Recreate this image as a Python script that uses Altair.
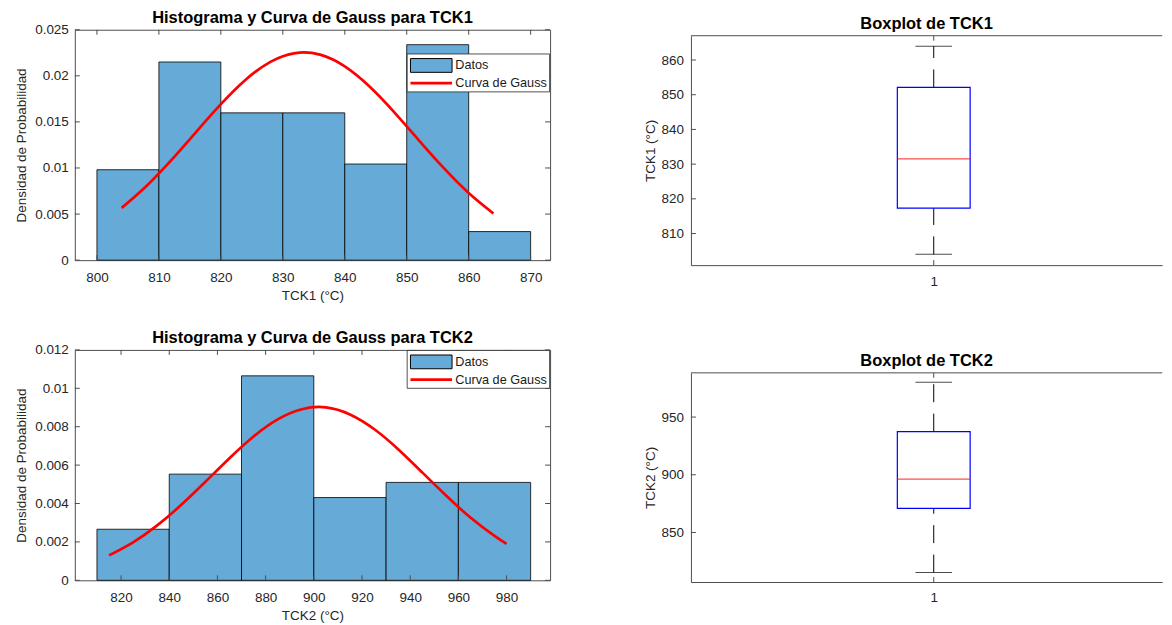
import altair as alt
import pandas as pd

# ---------------- data ----------------
tck1_bin_lo = [800, 810, 820, 830, 840, 850, 860]
tck1_bin_hi = [810, 820, 830, 840, 850, 860, 870]
tck1_density = [0.00981, 0.02150, 0.01598, 0.01598, 0.01043, 0.02338, 0.00310]
tck1_curve_x = [804, 808, 812, 816, 820, 824, 828, 832, 836, 840, 844, 848, 852, 856, 860, 864]
tck1_curve_y = [0.00567, 0.00805, 0.01085, 0.01390, 0.01692, 0.01958, 0.02152, 0.02247,
                0.02230, 0.02103, 0.01884, 0.01604, 0.01298, 0.00998, 0.00729, 0.00506]
tck1_xticks = [800, 810, 820, 830, 840, 850, 860, 870]
tck1_yticks = [0, 0.005, 0.01, 0.015, 0.02, 0.025]

tck2_bin_lo = [810, 840, 870, 900, 930, 960]
tck2_bin_hi = [840, 870, 900, 930, 960, 990]
tck2_density = [0.00266, 0.00553, 0.01065, 0.00431, 0.00510, 0.00510]
tck2_curve_x = [815, 825, 835, 845, 855, 865, 875, 885, 895, 905, 915, 925, 935, 945, 955, 965, 975, 980]
tck2_curve_y = [0.00130, 0.00198, 0.00286, 0.00393, 0.00513, 0.00636, 0.00749, 0.00838, 0.00891,
                0.00901, 0.00864, 0.00788, 0.00683, 0.00562, 0.00440, 0.00327, 0.00231, 0.00190]
tck2_xticks = [820, 840, 860, 880, 900, 920, 940, 960, 980]
tck2_yticks = [0, 0.002, 0.004, 0.006, 0.008, 0.01, 0.012]

legend_labels = ["Datos", "Curva de Gauss"]

box_category = [1]
# lower whisker, Q1, median, Q3, upper whisker
tck1_box = [804.0, 817.3, 831.5, 852.1, 864.0]
tck2_box = [815.3, 870.9, 896.3, 937.4, 980.1]
tck1_box_yticks = [810, 820, 830, 840, 850, 860]
tck2_box_yticks = [850, 900, 950]

# ---------------- style ----------------
FONT = "Liberation Sans"
BLUE = "#66AAD7"
AX = "#262626"
FRAME = "#4d4d4d"
TL = 5
HW = 476.5
BW = 472.5                 # visible part of the boxplot axes (cut at the page edge)
BOX_UNIT = 487.2           # pixels per x unit in the boxplot axes


def hist_chart(lo, hi, dens, cx, cy, xt, yt, xdom, ydom, title, xtitle, leg_top, toff,
               HH, lpad, tpad):
    xs = alt.Scale(domain=xdom, nice=False, zero=False)
    ys = alt.Scale(domain=ydom, nice=False, zero=False)
    xax = alt.Axis(values=xt, format="d", title=xtitle, labelPadding=lpad, titlePadding=tpad)
    yax = alt.Axis(values=yt, format="~g", title="Densidad de Probabilidad",
                   labelPadding=6.5, titlePadding=6.5)
    bars = alt.Chart(pd.DataFrame({"lo": lo, "hi": hi, "d": dens})).mark_rect(
        fill=BLUE, stroke="black", strokeWidth=0.8
    ).encode(
        x=alt.X("lo:Q", scale=xs, axis=xax),
        x2="hi:Q",
        y=alt.Y("d:Q", scale=ys, axis=yax),
        y2=alt.datum(0),
    )
    curve = alt.Chart(pd.DataFrame({"x": cx, "y": cy})).mark_line(
        color="#FF0000", strokeWidth=2.7, interpolate="natural"
    ).encode(x=alt.X("x:Q", scale=xs, axis=xax), y=alt.Y("y:Q", scale=ys, axis=yax))
    xtdf = pd.DataFrame({"t": xt})
    ytdf = pd.DataFrame({"t": yt})
    rule = dict(color=FRAME, strokeWidth=1)
    xb = alt.Chart(xtdf).mark_rule(**rule).encode(
        x=alt.X("t:Q", scale=xs, axis=xax), y=alt.value(HH), y2=alt.value(HH - TL))
    xtp = alt.Chart(xtdf).mark_rule(**rule).encode(
        x=alt.X("t:Q", scale=xs, axis=xax), y=alt.value(0), y2=alt.value(TL))
    yl = alt.Chart(ytdf).mark_rule(**rule).encode(
        y=alt.Y("t:Q", scale=ys, axis=yax), x=alt.value(0), x2=alt.value(TL))
    yr = alt.Chart(ytdf).mark_rule(**rule).encode(
        y=alt.Y("t:Q", scale=ys, axis=yax), x=alt.value(HW), x2=alt.value(HW - TL))

    # legend box (drawn in pixel space of the plot)
    one = pd.DataFrame({"k": [0]})
    lx, ly = 333.2, leg_top
    lw, lh = 142.8, 38
    frame = alt.Chart(one).mark_rect(fill="white", stroke=AX, strokeWidth=0.8).encode(
        x=alt.value(lx), x2=alt.value(lx + lw), y=alt.value(ly), y2=alt.value(ly + lh))
    patch = alt.Chart(one).mark_rect(fill=BLUE, stroke="black", strokeWidth=1).encode(
        x=alt.value(lx + 3.3), x2=alt.value(lx + 45), y=alt.value(ly + 4.6), y2=alt.value(ly + 18.4))
    lline = alt.Chart(one).mark_rule(color="#FF0000", strokeWidth=2.7).encode(
        x=alt.value(lx + 3.3), x2=alt.value(lx + 45), y=alt.value(ly + 29.2))
    t1 = alt.Chart(pd.DataFrame({"lab": [legend_labels[0]]})).mark_text(
        align="left", baseline="middle", font=FONT, fontSize=12.7, color="#1a1a1a"
    ).encode(x=alt.value(lx + 48.3), y=alt.value(ly + 11.5), text="lab:N")
    t2 = alt.Chart(pd.DataFrame({"lab": [legend_labels[1]]})).mark_text(
        align="left", baseline="middle", font=FONT, fontSize=12.7, color="#1a1a1a"
    ).encode(x=alt.value(lx + 48.3), y=alt.value(ly + 29.2), text="lab:N")

    return alt.layer(bars, curve, xb, xtp, yl, yr, frame, patch, lline, t1, t2).properties(
        width=HW, height=HH, title=alt.TitleParams(title, offset=toff))


def box_chart(vals, yt, ydom, title, ytitle, Hplot, off, toff):
    H = Hplot + off
    xs = alt.Scale(domain=[0.5, 0.5 + BW / BOX_UNIT], nice=False, zero=False)
    ys = alt.Scale(domain=ydom, nice=False, zero=False, range=[H, off])
    xax = alt.Axis(values=box_category, format="d", title=None, labelPadding=9,
                   domain=True, domainColor=FRAME, domainWidth=1)
    yax = alt.Axis(values=yt, format="d", title=ytitle, labelPadding=7.4, titlePadding=3.5,
                   domain=True, domainColor=FRAME, domainWidth=1)
    df = pd.DataFrame({"pos": box_category, "lower": [vals[0]], "q1": [vals[1]],
                       "median": [vals[2]], "q3": [vals[3]], "upper": [vals[4]]})
    base = alt.Chart(df)
    xe = alt.X("pos:Q", scale=xs, axis=xax)
    up = base.mark_rule(color="black", strokeWidth=1, strokeDash=[18, 11.5]).encode(
        x=xe, y=alt.Y("q3:Q", scale=ys, axis=yax), y2="upper:Q")
    low = base.mark_rule(color="black", strokeWidth=1, strokeDash=[18, 11.5]).encode(
        x=xe, y=alt.Y("lower:Q", scale=ys, axis=yax), y2="q1:Q")
    cap_u = base.mark_tick(orient="horizontal", size=36.7, thickness=1, color="black").encode(
        x=xe, y=alt.Y("upper:Q", scale=ys, axis=yax))
    cap_l = base.mark_tick(orient="horizontal", size=36.7, thickness=1, color="black").encode(
        x=xe, y=alt.Y("lower:Q", scale=ys, axis=yax))
    bx = base.mark_bar(orient="vertical", size=73, fill="white", fillOpacity=0,
                       stroke="#0000FF", strokeWidth=1.2).encode(
        x=xe, y=alt.Y("q1:Q", scale=ys, axis=yax), y2="q3:Q")
    med = base.mark_tick(orient="horizontal", size=73, thickness=1.2, color="#FF0000").encode(
        x=xe, y=alt.Y("median:Q", scale=ys, axis=yax))
    ytdf = pd.DataFrame({"t": yt})
    xtdf = pd.DataFrame({"t": box_category})
    rule = dict(color=FRAME, strokeWidth=1)
    yl = alt.Chart(ytdf).mark_rule(**rule).encode(
        y=alt.Y("t:Q", scale=ys, axis=yax), x=alt.value(0), x2=alt.value(TL))
    xb = alt.Chart(xtdf).mark_rule(**rule).encode(
        x=alt.X("t:Q", scale=xs, axis=xax), y=alt.value(H), y2=alt.value(H - TL))
    xtp = alt.Chart(xtdf).mark_rule(**rule).encode(
        x=alt.X("t:Q", scale=xs, axis=xax), y=alt.value(off), y2=alt.value(off + TL))
    topline = alt.Chart(pd.DataFrame({"k": [0]})).mark_rule(**rule).encode(
        x=alt.value(0), x2=alt.value(BW), y=alt.value(off))
    return alt.layer(up, low, cap_u, cap_l, bx, med, yl, xb, xtp, topline).properties(
        width=BW, height=H, title=alt.TitleParams(title, offset=toff),
        view=alt.ViewBackground(stroke="transparent"))


L1 = hist_chart(tck1_bin_lo, tck1_bin_hi, tck1_density, tck1_curve_x, tck1_curve_y,
                tck1_xticks, tck1_yticks, [796.43, 873.14], [0, 0.025],
                "Histograma y Curva de Gauss para TCK1", "TCK1 (°C)", 24.3, -3.7,
                231, 10, 4.5)
L2 = hist_chart(tck2_bin_lo, tck2_bin_hi, tck2_density, tck2_curve_x, tck2_curve_y,
                tck2_xticks, tck2_yticks, [800.81, 998.07], [0, 0.012],
                "Histograma y Curva de Gauss para TCK2", "TCK2 (°C)", 0.5, -3.2,
                231, 10, 4.5)
R1 = box_chart(tck1_box, tck1_box_yticks, [800.9, 867.0], "Boxplot de TCK1", "TCK1 (°C)",
               230.0, 6.0, -2.4)
R2 = box_chart(tck2_box, tck2_box_yticks, [807.1, 988.3], "Boxplot de TCK2", "TCK2 (°C)",
               209.7, 23.0, -19.4)

chart = alt.concat(
    L1, R1, L2, R2, columns=2, bounds="flush",
    spacing={"row": 85.0, "column": 140.7},
).properties(
    padding={"left": 5, "top": 0, "right": 0, "bottom": 0}
).configure(font=FONT).configure_view(
    stroke=FRAME, strokeWidth=1
).configure_axis(
    labelFont=FONT, labelFontSize=13.5, labelColor=AX,
    titleFont=FONT, titleFontSize=13.5, titleFontWeight="normal", titleColor=AX,
    domain=False, ticks=False, tickSize=0, grid=False
).configure_title(
    font=FONT, fontSize=16.5, fontWeight="bold", color="black", anchor="middle"
)

chart.save("out.html", embed_options={"renderer": "svg", "actions": False})
